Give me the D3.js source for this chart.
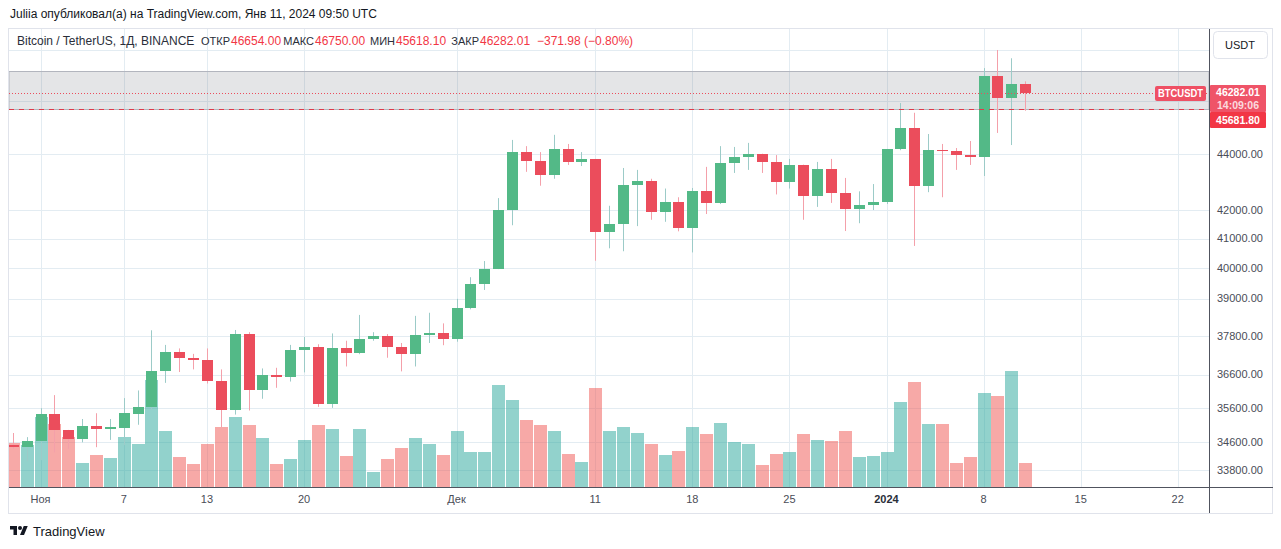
<!DOCTYPE html>
<html><head><meta charset="utf-8">
<script src="https://cdn.jsdelivr.net/npm/d3@7"></script>
<style>
body{margin:0;background:#fff;}
svg{display:block;font-family:"Liberation Sans",Arial,sans-serif;}
</style>
</head><body>
<svg id="c" width="1281" height="549"></svg>
<script>
// ---------------- DATA ----------------
const firstDay = "2023-10-30";
const opens = [34510,34450, 34630,35420,34940,34700,35070,34980,35020,35420,35630,36700,
  37300,37120,37050,36420,35530,37870,36140,36600,36520,37360,
  37460,35720,37420,37260,37710,37800,37450,37230,37830,37880,
  37710,38690,39470,39970,41990,44070,43750,43240,44180,43710,
  43800,41240,41490,42880,43030,41920,42270,41370,42660,42240,
  43670,43880,44000,43690,42980,43600,42490,43450,42590,42040,
  42170,
  42280,44180,44950,42830,44150,44120,43960,43890,46960,46120,
  46654];
const highs = [34860,34740, 35590,35980,34950,35270,35440,35270,35890,36120,37980,37520,
  37410,37240,37410,36760,37990,37920,36790,36810,37520,37770,
  37540,37880,37650,38470,37920,37860,37580,38440,38540,38200,
  38990,39700,40240,42410,44520,44290,44070,44710,44370,44070,
  43820,42140,43490,43420,43100,42750,42440,42770,43530,44290,
  44260,44410,44010,43960,43820,43610,43710,43820,43130,42650,
  42910,
  44185,45910,45540,44740,44370,44220,44480,47270,47990,47660,
  46750];
const lows = [34400,34050, 34080,34300,34400,34590,34450,34660,34510,35100,35550,36350,
  36680,36760,36330,35030,35400,35520,35870,36200,36390,36670,
  35630,35600,36850,37230,37650,37120,36700,36850,37580,37510,
  37620,38650,39280,39970,41460,43350,42850,43100,43600,43560,
  40250,40670,40570,41430,41650,41580,41250,40530,41850,42200,
  43310,43420,43310,42540,42750,41650,42100,42240,41260,41530,
  41990,
  42200,44140,40750,42620,42440,43420,43600,43200,44780,44330,
  45618.10];
const closes = [34450,34630, 35420,34940,34700,35070,34980,35040,35440,35630,36700,37300,
  37120,37050,36420,35530,37870,36140,36600,36520,37360,37460,
  35720,37420,37260,37710,37800,37450,37230,37830,37880,37710,
  38690,39470,39970,41990,44070,43750,43240,44180,43710,43800,
  41240,41490,42880,43030,41920,42270,41370,42660,42240,43670,
  43880,44000,43690,42980,43600,42490,43450,42590,42040,42170,
  42280,
  44180,44950,42830,44150,44120,43960,43890,46960,46120,46654,
  46282.01];
// volume, thousand BTC (estimated)
const volumes = [37.4,35.7, 58.7,52.7,42.5,20.4,27.2,24.7,42.5,36.6,90.1,47.6,
  25.5,19.6,36.6,50.2,58.7,51.9,41.7,19.6,23.8,40.0,
  51.9,49.3,26.4,49.3,12.8,23.8,33.2,41.7,36.6,27.2,
  47.6,29.8,29.8,85.9,73.1,56.1,51.9,46.8,28.1,21.3,
  83.3,46.8,50.2,45.9,36.6,27.2,30.6,51.0,45.1,53.6,
  38.3,36.6,18.7,28.1,29.8,45.1,40.0,39.1,46.8,25.5,
  26.4,
  29.8,71.4,88.4,52.7,52.7,20.4,25.5,79.1,76.5,97.8,
  20.4];
const gridPriceTicks = [48000,46000,44000,42000,41000,40000,39000,37800,36600,35600,34600,33800];
const labelPriceTicks = [44000,42000,41000,40000,39000,37800,36600,35600,34600,33800];
const timeTickDates = ["2023-11-01","2023-11-07","2023-11-13","2023-11-20","2023-12-01","2023-12-11","2023-12-18","2023-12-25","2024-01-01","2024-01-08","2024-01-15","2024-01-22"];
const timeTickLabels = ["Ноя","7","13","20","Дек","11","18","25","2024","8","15","22"];
const lastPrice = 46282.01;
const alertPrice = 45681.80;
const bandTop = 47150, bandBottom = 45681.80;

// ---------------- LAYOUT ----------------
const L = 9, R = 1209, T = 29, B = 487;
const svg = d3.select("#c");
svg.append("rect").attr("width",1281).attr("height",549).attr("fill","#fff");

const dates = opens.map((d,i)=>d3.utcDay.offset(new Date(firstDay+"T00:00:00Z"), i));
const x = d3.scaleUtc()
  .domain([new Date("2023-11-01T00:00:00Z"), new Date("2024-01-01T00:00:00Z")])
  .range([40.5, 886.5]);
const y = d3.scaleLog().domain([33800, 44000]).range([470, 154]);
const vy = d3.scaleLinear().domain([0, d3.max(volumes)]).range([B, 371]);

const gridColor = "#e3ecf2";
// frame
svg.append("rect").attr("x",8.5).attr("y",28.5).attr("width",1264).attr("height",485)
  .attr("fill","none").attr("stroke","#e0e3eb");

svg.append("defs").append("clipPath").attr("id","pc")
  .append("rect").attr("x",L).attr("y",T).attr("width",R-L).attr("height",B-T);

const plot = svg.append("g").attr("clip-path","url(#pc)");

// grid
plot.selectAll(".hg").data(gridPriceTicks).join("line")
  .attr("x1",L).attr("x2",R)
  .attr("y1",d=>Math.round(y(d))+0.5).attr("y2",d=>Math.round(y(d))+0.5)
  .attr("stroke",gridColor);
const tDates = timeTickDates.map(s=>new Date(s+"T00:00:00Z"));
plot.selectAll(".vg").data(tDates).join("line")
  .attr("x1",d=>Math.round(x(d))+0.5).attr("x2",d=>Math.round(x(d))+0.5)
  .attr("y1",T).attr("y2",B).attr("stroke",gridColor);

// band drawing
plot.append("rect").attr("x",L).attr("width",R-L)
  .attr("y",Math.round(y(bandTop))+0.5)
  .attr("height",Math.round(y(bandBottom))-Math.round(y(bandTop)))
  .attr("fill","rgba(120,123,134,0.2)").attr("stroke","#b2b5be");

// volume
plot.selectAll(".vol").data(volumes).join("rect")
  .attr("x",(d,i)=>Math.round(x(dates[i]))-6)
  .attr("width",13)
  .attr("y",d=>Math.round(vy(d)))
  .attr("height",d=>B-Math.round(vy(d)))
  .attr("fill",(d,i)=>closes[i]>=opens[i]?"rgba(38,166,154,0.5)":"rgba(239,83,80,0.5)");

// candles
const cg = plot.selectAll(".cd").data(opens).join("g");
cg.append("line")
  .attr("x1",(d,i)=>Math.round(x(dates[i]))+0.5).attr("x2",(d,i)=>Math.round(x(dates[i]))+0.5)
  .attr("y1",(d,i)=>y(highs[i])).attr("y2",(d,i)=>y(lows[i]))
  .attr("stroke",(d,i)=>closes[i]>=opens[i]?"#9ccbc8":"#f4a0aa").attr("stroke-width",1);
cg.append("rect")
  .attr("x",(d,i)=>Math.round(x(dates[i]))-5)
  .attr("width",11)
  .attr("y",(d,i)=>Math.round(y(Math.max(opens[i],closes[i]))))
  .attr("height",(d,i)=>Math.max(1,Math.round(y(Math.min(opens[i],closes[i])))-Math.round(y(Math.max(opens[i],closes[i])))))
  .attr("fill",(d,i)=>closes[i]>=opens[i]?"#53b987":"#eb4d5c");

// price lines
plot.append("line").attr("x1",L).attr("x2",R)
  .attr("y1",Math.round(y(lastPrice))+0.5).attr("y2",Math.round(y(lastPrice))+0.5)
  .attr("stroke","#eb4d5c").attr("stroke-dasharray","1,2");
plot.append("line").attr("x1",L).attr("x2",R)
  .attr("y1",Math.round(y(alertPrice))+0.5).attr("y2",Math.round(y(alertPrice))+0.5)
  .attr("stroke","#e03848").attr("stroke-dasharray","5,5");

// axes lines
svg.append("line").attr("x1",R+0.5).attr("x2",R+0.5).attr("y1",T).attr("y2",513)
  .attr("stroke","#50535e");
svg.append("line").attr("x1",L).attr("x2",1273).attr("y1",B+0.5).attr("y2",B+0.5)
  .attr("stroke","#50535e");

// price axis labels
svg.selectAll(".pl").data(labelPriceTicks).join("text")
  .attr("x",1217).attr("y",d=>y(d)).attr("dy","0.35em")
  .attr("font-size",11).attr("fill","#4a4d57")
  .text(d=>d3.format(".2f")(d));

// time axis labels
svg.selectAll(".tl").data(tDates).join("text")
  .attr("x",d=>x(d)).attr("y",499).attr("dy","0.35em")
  .attr("text-anchor","middle").attr("font-size",11)
  .attr("fill",(d,i)=>timeTickLabels[i]==="2024"?"#2a2e39":"#4a4d57")
  .attr("font-weight",(d,i)=>timeTickLabels[i]==="2024"?"bold":"normal")
  .text((d,i)=>timeTickLabels[i]);

// USDT button
svg.append("rect").attr("x",1213.5).attr("y",31.5).attr("width",54).attr("height",27).attr("rx",4)
  .attr("fill","#fff").attr("stroke","#e0e3eb");
svg.append("text").attr("x",1240).attr("y",45).attr("dy","0.35em").attr("text-anchor","middle")
  .attr("font-size",11).attr("fill","#131722").text("USDT");

// last price tags
const yl = Math.round(y(lastPrice));
svg.append("rect").attr("x",1155).attr("y",yl-7).attr("width",51).attr("height",15).attr("rx",2)
  .attr("fill","#ef5064");
svg.append("text").attr("x",1158).attr("y",yl+0.5).attr("dy","0.35em")
  .attr("font-size",11).attr("font-weight","bold").attr("fill","#fff")
  .attr("textLength",45).attr("lengthAdjust","spacingAndGlyphs").text("BTCUSDT");
svg.append("rect").attr("x",1210).attr("y",yl-8).attr("width",56).attr("height",27).attr("rx",1)
  .attr("fill","#ef5468");
svg.append("text").attr("x",1238).attr("y",yl-0.5).attr("dy","0.35em").attr("text-anchor","middle")
  .attr("font-size",10.5).attr("font-weight","bold").attr("fill","#fff").text(d3.format(".2f")(lastPrice));
svg.append("text").attr("x",1238).attr("y",yl+12.5).attr("dy","0.35em").attr("text-anchor","middle")
  .attr("font-size",10.5).attr("font-weight","bold").attr("fill","rgba(255,255,255,0.8)").text("14:09:06");
svg.append("rect").attr("x",1210).attr("y",yl+19).attr("width",56).attr("height",16).attr("rx",1)
  .attr("fill","#f23645");
svg.append("text").attr("x",1238).attr("y",yl+27.5).attr("dy","0.35em").attr("text-anchor","middle")
  .attr("font-size",10.5).attr("font-weight","bold").attr("fill","#fff").text(d3.format(".2f")(alertPrice));

// header
svg.append("text").attr("x",10).attr("y",14).attr("dy","0.35em").attr("font-size",12)
  .attr("fill","#131722").text("Juliia опубликовал(а) на TradingView.com, Янв 11, 2024 09:50 UTC");

// legend
const red = "#f23645", dark = "#2a2e39";
const n = opens.length-1;
svg.append("text").attr("x",17).attr("y",41).attr("dy","0.35em").attr("font-size",12)
  .attr("fill",dark).text("Bitcoin / TetherUS, 1Д, BINANCE");
const legItems = [[231,"ОТКР",opens[n]],[315,"МАКС",highs[n]],[396,"МИН",lows[n]],[480,"ЗАКР",closes[n]]];
svg.selectAll(".ll").data(legItems).join("text")
  .attr("x",d=>d[0]-1).attr("y",41).attr("dy","0.35em").attr("font-size",11)
  .attr("text-anchor","end").attr("fill",dark).text(d=>d[1]);
svg.selectAll(".lv").data(legItems).join("text")
  .attr("x",d=>d[0]).attr("y",41).attr("dy","0.35em").attr("font-size",12)
  .attr("fill",red).text(d=>d3.format(".2f")(d[2]));
svg.append("text").attr("x",537).attr("y",41).attr("dy","0.35em").attr("font-size",12)
  .attr("fill",red).text("−371.98 (−0.80%)");

// footer logo
const lg = svg.append("g").attr("transform","translate(10,524) scale(0.5)").attr("fill","#131722");
lg.append("path").attr("d","M14 22H7V11H0V4h14v18z");
lg.append("circle").attr("cx",20).attr("cy",8).attr("r",4);
lg.append("path").attr("d","M28 22h-8l7.5-18h8L28 22z");
svg.append("text").attr("x",33).attr("y",531).attr("dy","0.35em").attr("font-size",13)
  .attr("fill","#131722").text("TradingView");
</script>
</body></html>
